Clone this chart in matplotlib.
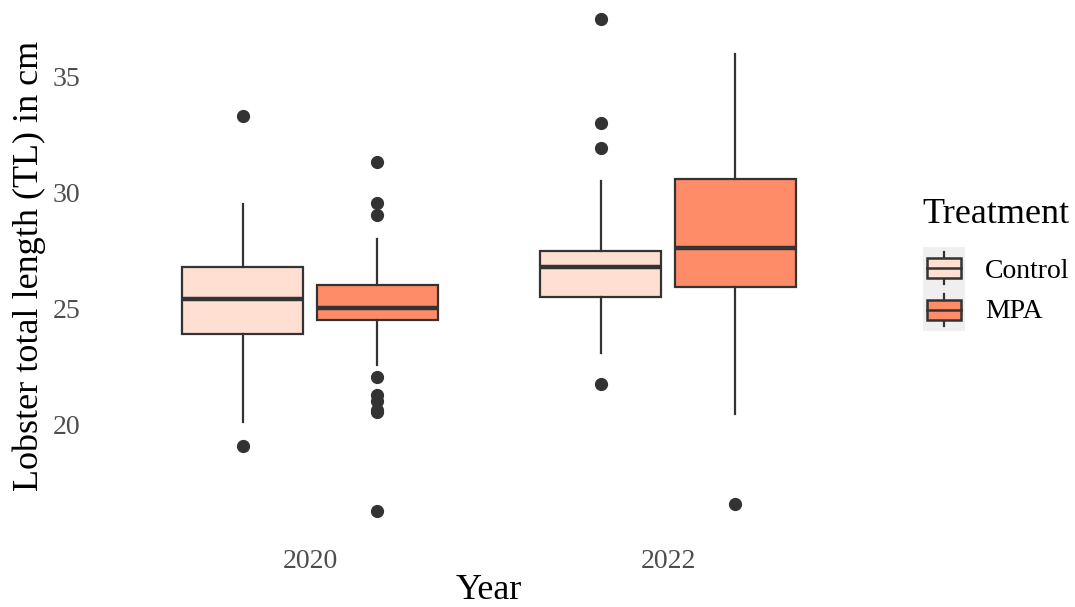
import matplotlib
matplotlib.use("Agg")
import matplotlib.pyplot as plt
from matplotlib.patches import Rectangle

plt.rcParams['font.family'] = ['Liberation Serif', 'DejaVu Serif']

# Five-number summaries and outliers of lobster total length (cm)
years = ["2020", "2022"]
treatments = ["Control", "MPA"]
fills = ["#FEDFD2", "#FF8C69"]

control_q1 = [23.90, 25.49]
control_med = [25.42, 26.78]
control_q3 = [26.81, 27.50]
control_lo = [20.09, 23.06]
control_hi = [29.49, 30.49]
control_out = [[33.33, 19.05], [37.49, 33.02, 31.91, 21.73]]

mpa_q1 = [24.52, 25.94]
mpa_med = [25.02, 27.60]
mpa_q3 = [26.03, 30.59]
mpa_lo = [22.56, 20.46]
mpa_hi = [27.99, 35.98]
mpa_out = [[31.33, 29.55, 29.03, 22.05, 21.26, 21.01, 20.62, 20.54, 16.24],
           [16.55]]

edge = "#333333"

fig = plt.figure(figsize=(10.75, 6.07), dpi=100)
ax = fig.add_axes([95 / 1075, 69 / 607, 788 / 1075, 543.6 / 607])

dodge = 0.1875
width = 0.3375
series = [
    (control_q1, control_med, control_q3, control_lo, control_hi, control_out),
    (mpa_q1, mpa_med, mpa_q3, mpa_lo, mpa_hi, mpa_out),
]
for s, (q1, med, q3, lo, hi, out) in enumerate(series):
    stats = []
    for i in range(len(years)):
        stats.append(dict(q1=q1[i], med=med[i], q3=q3[i],
                          whislo=lo[i], whishi=hi[i], fliers=out[i]))
    pos = [i + 1 + (s - 0.5) * 2 * dodge for i in range(len(years))]
    ax.bxp(stats, positions=pos, widths=width, patch_artist=True,
           showcaps=False, manage_ticks=False,
           boxprops=dict(facecolor=fills[s], edgecolor=edge, linewidth=1.6),
           medianprops=dict(color=edge, linewidth=3.2, solid_capstyle="butt"),
           whiskerprops=dict(color=edge, linewidth=1.6),
           flierprops=dict(marker="o", markerfacecolor=edge,
                           markeredgecolor=edge, markersize=8.5))

ax.set_xlim(0.4, 2.6)
ax.set_ylim(15.09, 38.56)
ax.set_xticks([1, 2])
ax.set_xticklabels(years)
ax.set_yticks([20, 25, 30, 35])
ax.tick_params(length=0, labelsize=20, labelcolor="#4D4D4D")
ax.tick_params(axis="y", pad=10.5)
ax.tick_params(axis="x", pad=8)
for sp in ax.spines.values():
    sp.set_visible(False)
ax.set_xlabel("Year", fontsize=26, labelpad=0)
ax.set_ylabel("Lobster total length (TL) in cm", fontsize=26, labelpad=4.5)

# Legend
fig.text(922 / 1075, 1 - 215 / 607, "Treatment", fontsize=26,
         ha="left", va="center")
kax = fig.add_axes([923 / 1075, 1 - 331 / 607, 42 / 1075, 84 / 607])
kax.set_xlim(0, 1)
kax.set_ylim(0, 2)
kax.set_facecolor("#EFEFEF")
for sp in kax.spines.values():
    sp.set_visible(False)
kax.set_xticks([])
kax.set_yticks([])
for k, name in enumerate(treatments):
    cy = 1.5 - k
    kax.plot([0.5, 0.5], [cy - 0.38, cy + 0.38], color=edge, lw=1.6,
             zorder=1)
    kax.add_patch(Rectangle((0.1, cy - 0.23), 0.8, 0.46, facecolor=fills[k],
                            edgecolor=edge, lw=1.8, zorder=2))
    kax.plot([0.1, 0.9], [cy, cy], color=edge, lw=1.8, zorder=3)
    fig.text(985 / 1075, 1 - (272 + 39 * k) / 607, name, fontsize=20,
             ha="left", va="center")

fig.savefig("out.png", dpi=100, facecolor="white")
